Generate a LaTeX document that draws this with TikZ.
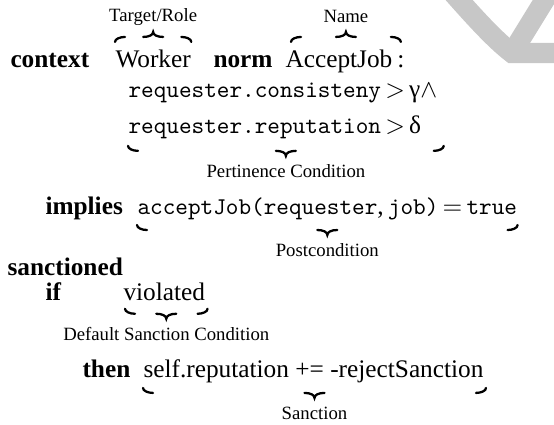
\documentclass[tikz,border=0pt]{standalone}
\usepackage{fontspec}
\setmainfont{Liberation Serif}
\usetikzlibrary{calc}

\newcommand{\cd}[1]{{\fontsize{9.5}{11}\selectfont\ttfamily #1}}
% brace (ends and tip only) with its label
\newcommand{\brc}[5]{%
	\coordinate (bl) at (#1);
	\coordinate (br) at (#2);
	\draw[brc] (bl) .. controls +(0,{3*(#3)}) and +(-5,0) .. +(10,{5*(#3)});
	\draw[brc] (br) .. controls +(0,{3*(#3)}) and +(5,0) .. +(-10,{5*(#3)});
	\coordinate (tip) at ($(bl)!0.5!(br)+(0,{10*(#3)})$);
	\draw[brc] ($(tip)+(-10,{-5*(#3)})$) .. controls +(6,0) and +(0,{-3*(#3)}) .. (tip)
		.. controls +(0,{-3*(#3)}) and +(-6,0) .. ($(tip)+(10,{-5*(#3)})$);
	\node[lbl] (#4) at ($(tip)+(0,{15*(#3)})$) {#5};
}

\tikzset{
	kw/.style={font=\bfseries, inner sep=0pt, anchor=base west},
	txt/.style={inner sep=0pt, anchor=base west},
	lbl/.style={inner sep=0pt, font=\fontsize{7.4}{9}\selectfont},
	brc/.style={line width=0.9pt, line cap=round},
	wm/.style={line width=8pt, black!22, line join=miter}
}

\begin{document}
\begin{tikzpicture}[x=0.395pt, y=-0.395pt]
	\useasboundingbox (0,0) rectangle (554,424);
	% grey logo part, top right
	\begin{scope}
		\clip (0,0) rectangle (554,424);
		\draw[wm] (452,-8) .. controls (475,18) and (495,40) .. (512,53) -- (580,53);
		\draw[wm] (512,53) -- (552,-12);
	\end{scope}

	\foreach \nm/\x/\y/\t in {ctx/10/67/context, norm/213/67/norm, implies/45/214/implies,
		sanc/7/275/sanctioned, kwif/45/300/if, then/82/377/then} {
		\node[kw] (\nm) at (\x,\y) {\t};
	}

	\node[txt] (worker) at (115,67) {Worker};
	\node[txt] (name) at (285,67) {AcceptJob};
	\node[txt] (colon) at ($(name.base east)+(4,0)$) {:};
	\node[txt] (cond1) at (128,97) {\cd{requester.consisteny}\,$>$\,γ$\wedge$};
	\node[txt] (cond2) at (128,133) {\cd{requester.reputation}\,$>$\,δ};
	\node[txt] (post) at (137,214) {\cd{acceptJob(requester},\,\cd{job)}\,$=$\,\cd{true}};
	\node[txt] (viol) at (123,300) {violated};
	\node[txt] (act) at (143,377) {self.reputation += -rejectSanction};

	\brc{$(worker.north west)+(0,-7)$}{$(worker.north east)+(0,-7)$}{-1}{ltarget}{Target/Role}
	\brc{$(name.north west)+(6,-7)$}{$(name.north east)+(8,-7)$}{-1}{lname}{Name}
	\brc{$(cond2.south west)+(0,7)$}{$(cond2.south west -| cond1.east)+(6,7)$}{1}{lpert}{Pertinence Condition}
	\brc{$(post.south west)+(0,5)$}{$(post.south east)+(0,5)$}{1}{lpost}{Postcondition}
	\brc{$(viol.south west)+(2,8)$}{$(viol.south east)+(2,8)$}{1}{ldef}{Default Sanction Condition}
	\brc{$(act.south west)+(0,5)$}{$(act.south east)+(2,5)$}{1}{lsanc}{Sanction}
\end{tikzpicture}
\end{document}
